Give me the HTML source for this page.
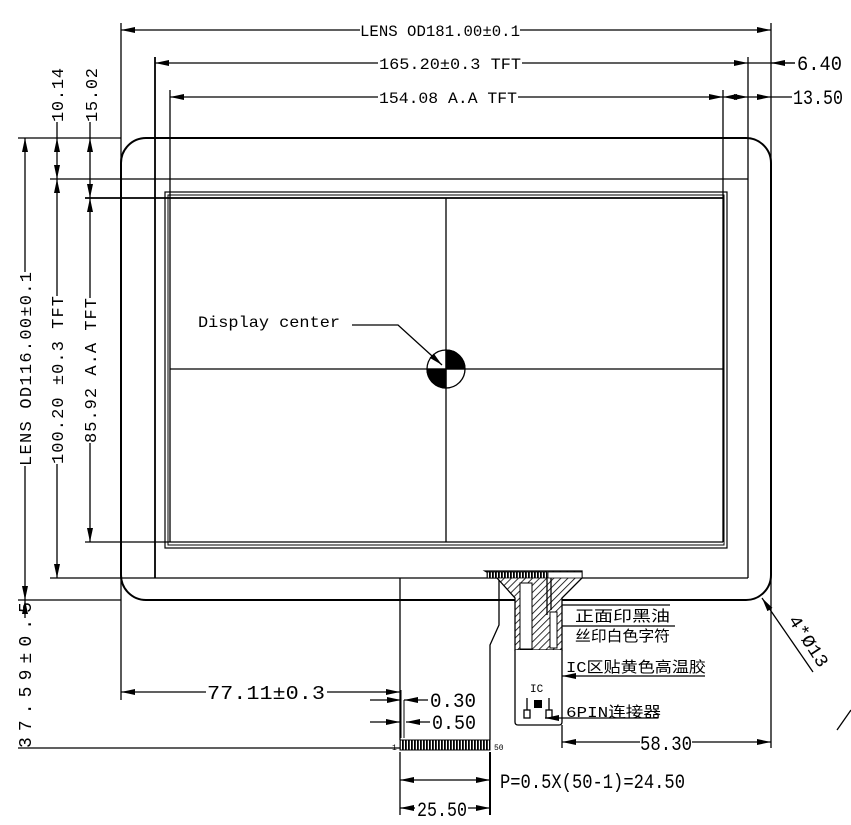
<!DOCTYPE html>
<html><head><meta charset="utf-8"><style>
html,body{margin:0;padding:0;background:#fff}
svg{display:block}
text{font-family:"Liberation Mono","Noto Sans CJK SC",monospace;fill:#000}
</style></head><body>
<svg width="851" height="825" viewBox="0 0 851 825" xmlns="http://www.w3.org/2000/svg">
<defs>
<marker id="a" viewBox="0 0 14 6" refX="14" refY="3" markerWidth="14" markerHeight="6" orient="auto-start-reverse" markerUnits="userSpaceOnUse"><path d="M0,0L14,3L0,6z" fill="#000"/></marker>
<pattern id="h" width="5" height="5" patternUnits="userSpaceOnUse" patternTransform="rotate(45)"><rect width="5" height="5" fill="#fff"/><line x1="0" y1="0" x2="0" y2="5" stroke="#000" stroke-width="1.6"/></pattern>
<pattern id="s" width="3" height="10" patternUnits="userSpaceOnUse"><rect width="3" height="10" fill="#fff"/><rect width="1.8" height="10" fill="#000"/></pattern>
</defs>
<g stroke="#000" fill="none" stroke-width="1.3">
<rect x="121" y="138" width="650" height="462" rx="25" stroke-width="2"/>
<line x1="50" y1="179" x2="748" y2="179"/>
<line x1="50" y1="578" x2="748" y2="578"/>
<line x1="155" y1="57" x2="155" y2="578" stroke-width="1.8"/>
<line x1="748" y1="57" x2="748" y2="578"/>
<rect x="165" y="192" width="562" height="356" stroke-width="1.2"/>
<rect x="168" y="195" width="556" height="350" stroke-width="1"/>
<line x1="85" y1="198" x2="723" y2="198" stroke-width="1.8"/>
<line x1="85" y1="542" x2="723" y2="542"/>
<line x1="170" y1="90" x2="170" y2="542"/>
<line x1="723" y1="90" x2="723" y2="542"/>
<line x1="446" y1="198" x2="446" y2="542"/>
<line x1="170" y1="369" x2="723" y2="369"/>
<line x1="121" y1="23" x2="121" y2="700"/>
<line x1="771" y1="23" x2="771" y2="748"/>
<line x1="18" y1="138" x2="121" y2="138"/>
<line x1="18" y1="600" x2="121" y2="600"/>
<line x1="121" y1="30" x2="360" y2="30" marker-start="url(#a)"/>
<line x1="520" y1="30" x2="771" y2="30" marker-end="url(#a)"/>
<line x1="155" y1="63" x2="378" y2="63" marker-start="url(#a)"/>
<line x1="522" y1="63" x2="748" y2="63" marker-end="url(#a)"/>
<line x1="748" y1="63" x2="795" y2="63"/>
<line x1="795" y1="63" x2="771" y2="63" marker-end="url(#a)"/>
<line x1="170" y1="97" x2="378" y2="97" marker-start="url(#a)"/>
<line x1="518" y1="97" x2="723" y2="97" marker-end="url(#a)"/>
<line x1="723" y1="97" x2="748" y2="97" marker-start="url(#a)" marker-end="url(#a)"/>
<line x1="748" y1="97" x2="771" y2="97" marker-end="url(#a)"/>
<line x1="771" y1="97" x2="792" y2="97"/>
<line x1="25" y1="138" x2="25" y2="272" marker-start="url(#a)"/>
<line x1="25" y1="466" x2="25" y2="600" marker-end="url(#a)"/>
<line x1="57" y1="179" x2="57" y2="296" marker-start="url(#a)"/>
<line x1="57" y1="464" x2="57" y2="578" marker-end="url(#a)"/>
<line x1="90" y1="198" x2="90" y2="298" marker-start="url(#a)"/>
<line x1="90" y1="443" x2="90" y2="542" marker-end="url(#a)"/>
<line x1="57" y1="122" x2="57" y2="138"/>
<line x1="57" y1="138" x2="57" y2="179" marker-start="url(#a)" marker-end="url(#a)"/>
<line x1="90" y1="122" x2="90" y2="138"/>
<line x1="90" y1="138" x2="90" y2="198" marker-start="url(#a)" marker-end="url(#a)"/>
<line x1="25" y1="618" x2="25" y2="600" marker-end="url(#a)"/>
<line x1="18" y1="748" x2="400" y2="748"/>
<circle cx="446" cy="369" r="19"/>
<path d="M446,369 L446,350 A19,19 0 0 1 465,369 Z" fill="#000"/>
<path d="M446,369 L446,388 A19,19 0 0 1 427,369 Z" fill="#000"/>
<polyline points="352,325 398,325 442,365" marker-end="url(#a)"/>
<polyline points="400,578 400,740"/>
<polyline points="499,578 499,625 490,645 490,740"/>
<rect x="400" y="740" width="90" height="10" fill="url(#s)" stroke-width="1"/>
<line x1="401" y1="690" x2="401" y2="738" stroke-width="1"/>
<line x1="404" y1="700" x2="404" y2="738" stroke-width="1"/>
<path d="M485,571 L582,571 L582,578 L562,598 L562,650 L515,650 L515,598 L497,578 Z" fill="url(#h)"/>
<rect x="487" y="572" width="60" height="6" fill="url(#s)" stroke-width="0.8"/>
<rect x="548" y="572" width="34" height="6" fill="#fff" stroke-width="0.8"/>
<rect x="520" y="583" width="12" height="66" fill="#fff" stroke-width="1"/>
<rect x="550" y="612" width="7" height="36" fill="#fff" stroke-width="1"/>
<line x1="547" y1="578" x2="547" y2="615"/>
<line x1="551" y1="578" x2="551" y2="610"/>
<path d="M515,650 L515,722 Q515,725 518,725 L559,725 Q562,725 562,722 L562,650" fill="#fff"/>
<rect x="534" y="700" width="8" height="8" fill="#000" stroke="none"/>
<rect x="524" y="710" width="6" height="8"/>
<rect x="546" y="710" width="6" height="8"/>
<line x1="527" y1="698" x2="527" y2="710"/>
<line x1="549" y1="698" x2="549" y2="710"/>
<line x1="562" y1="605" x2="670" y2="605"/>
<line x1="562" y1="626" x2="675" y2="626"/>
<line x1="705" y1="676" x2="562" y2="676" marker-end="url(#a)"/>
<line x1="658" y1="718" x2="545" y2="718" marker-end="url(#a)"/>
<line x1="562" y1="725" x2="562" y2="748"/>
<line x1="562" y1="742" x2="640" y2="742" marker-start="url(#a)"/>
<line x1="692" y1="742" x2="771" y2="742" marker-end="url(#a)"/>
<line x1="121" y1="692" x2="206" y2="692" marker-start="url(#a)"/>
<line x1="327" y1="692" x2="400" y2="692" marker-end="url(#a)"/>
<line x1="404" y1="700" x2="428" y2="700" marker-start="url(#a)"/>
<line x1="370" y1="700" x2="401" y2="700" marker-end="url(#a)"/>
<line x1="370" y1="722" x2="400" y2="722" marker-end="url(#a)"/>
<line x1="430" y1="722" x2="406" y2="722" marker-end="url(#a)"/>
<line x1="400" y1="752" x2="400" y2="815"/>
<line x1="490" y1="752" x2="490" y2="815" stroke-width="2"/>
<line x1="400" y1="780" x2="490" y2="780" marker-start="url(#a)" marker-end="url(#a)"/>
<line x1="400" y1="808" x2="415" y2="808" marker-start="url(#a)"/>
<line x1="468" y1="808" x2="490" y2="808" marker-end="url(#a)"/>
<line x1="813" y1="672" x2="762" y2="598" marker-end="url(#a)"/>
<line x1="837" y1="730" x2="851" y2="710"/>
</g>
<g font-size="16">
<text x="360" y="36" textLength="160" lengthAdjust="spacingAndGlyphs">LENS OD181.00±0.1</text>
<text x="379" y="69" textLength="142" lengthAdjust="spacingAndGlyphs">165.20±0.3 TFT</text>
<text x="379" y="103" textLength="138" lengthAdjust="spacingAndGlyphs">154.08 A.A TFT</text>
<text x="198" y="327" textLength="142" lengthAdjust="spacingAndGlyphs">Display center</text>
<text font-size="20" x="797" y="70" textLength="45" lengthAdjust="spacingAndGlyphs">6.40</text>
<text font-size="20" x="793" y="104" textLength="50" lengthAdjust="spacingAndGlyphs">13.50</text>
<text font-size="17" transform="translate(31,466) rotate(-90)" textLength="194" lengthAdjust="spacing">LENS OD116.00±0.1</text>
<text font-size="17" transform="translate(63,464) rotate(-90)" textLength="168" lengthAdjust="spacing">100.20 ±0.3 TFT</text>
<text font-size="17" transform="translate(96,443) rotate(-90)" textLength="145" lengthAdjust="spacing">85.92 A.A TFT</text>
<text font-size="17" transform="translate(63,122) rotate(-90)" textLength="54" lengthAdjust="spacing">10.14</text>
<text font-size="17" transform="translate(97,122) rotate(-90)" textLength="54" lengthAdjust="spacing">15.02</text>
<text font-size="18" transform="translate(31,748) rotate(-90)" textLength="146" lengthAdjust="spacing">37.59±0.5</text>
<text font-size="19" x="207" y="699" textLength="118" lengthAdjust="spacingAndGlyphs">77.11±0.3</text>
<text font-size="20" x="430" y="707" textLength="46" lengthAdjust="spacingAndGlyphs">0.30</text>
<text font-size="20" x="432" y="729" textLength="44" lengthAdjust="spacingAndGlyphs">0.50</text>
<text font-size="20" x="640" y="750" textLength="52" lengthAdjust="spacingAndGlyphs">58.30</text>
<text font-size="20" x="500" y="788" textLength="185" lengthAdjust="spacingAndGlyphs">P=0.5X(50-1)=24.50</text>
<text font-size="20" x="417" y="816" textLength="50" lengthAdjust="spacingAndGlyphs">25.50</text>
<text font-size="15" x="575" y="621" textLength="95" lengthAdjust="spacingAndGlyphs">正面印黑油</text>
<text font-size="15" x="575" y="641" textLength="95" lengthAdjust="spacingAndGlyphs">丝印白色字符</text>
<text font-size="15" x="566" y="672" textLength="140" lengthAdjust="spacingAndGlyphs">IC区贴黄色高温胶</text>
<text font-size="15" x="566" y="717" textLength="95" lengthAdjust="spacingAndGlyphs">6PIN连接器</text>
<text font-size="11" x="530" y="692">IC</text>
<text font-size="8" x="392" y="750">1</text>
<text font-size="8" x="494" y="750">50</text>
<text font-size="18" transform="translate(788,620) rotate(57)" textLength="58" lengthAdjust="spacingAndGlyphs">4*Ø13</text>
</g>
</svg>
</body></html>
